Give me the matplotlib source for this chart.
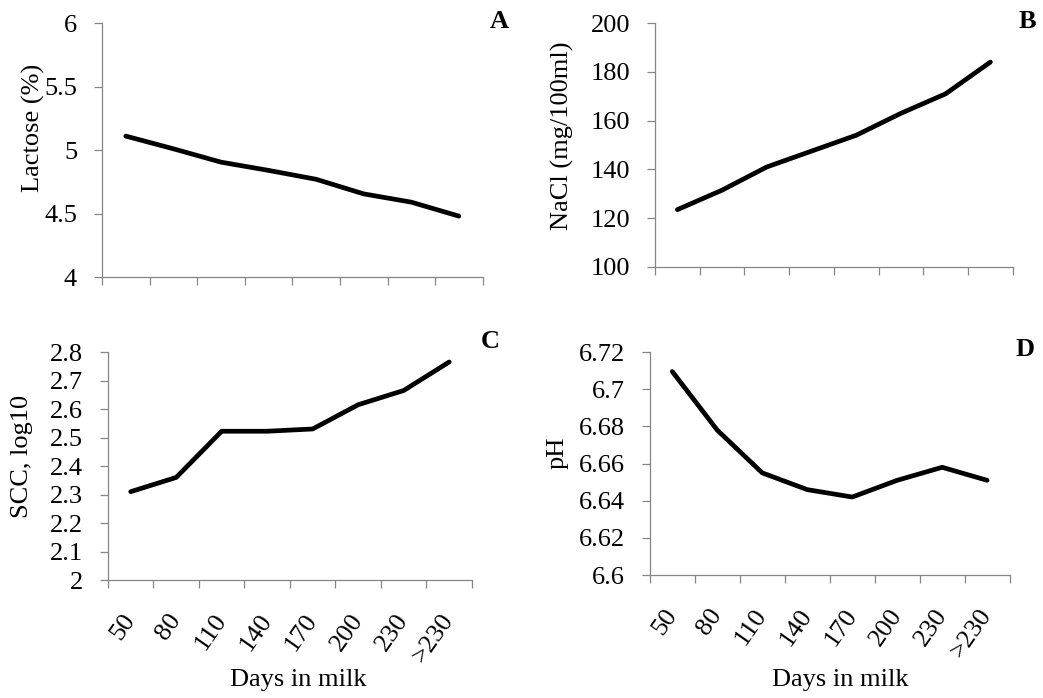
import matplotlib
matplotlib.use("Agg")
import matplotlib.pyplot as plt
from matplotlib.ticker import FuncFormatter

plt.rcParams['font.family'] = ['Liberation Serif', 'DejaVu Serif']

days = ['50', '80', '110', '140', '170', '200', '230', '>230']
lactose = [5.11, 5.01, 4.905, 4.84, 4.77, 4.655, 4.59, 4.48]
nacl = [123.5, 131.5, 141, 147.5, 154, 163, 171, 184]
scc = [2.31, 2.36, 2.522, 2.522, 2.53, 2.615, 2.665, 2.765]
ph = [6.7095, 6.678, 6.655, 6.646, 6.642, 6.651, 6.658, 6.651]

fig = plt.figure(figsize=(10.43, 6.98), dpi=100)

# [left, bottom, width, height], values, y limits, y step, ylabel, ylabel pos,
# panel letter, letter pos (px), xlabel pos (axes coords) or None
panels = [
    ([0.0978, 0.603, 0.365, 0.364], lactose, (4, 6), 0.5, 'Lactose (%)', (-0.181, 0.587),
     'A', (499, 22), None),
    ([0.628, 0.6175, 0.343, 0.3495], nacl, (100, 200), 20, 'NaCl (mg/100ml)', (-0.26, 0.537),
     'B', (1027, 22), None),
    ([0.1035, 0.169, 0.349, 0.3267], scc, (2, 2.8), 0.1, 'SCC, log10', (-0.236, 0.54),
     'C', (490, 342), (0.522, -0.4386)),
    ([0.623, 0.176, 0.345, 0.3197], ph, (6.6, 6.72), 0.02, 'pH', (-0.256, 0.55),
     'D', (1025, 350), (0.528, -0.471)),
]

fmt = FuncFormatter(lambda v, p: '{:g}'.format(round(v, 4)))
grey = '#868686'

for rect, vals, ylim, step, ylab, lpos, letter, tpos, xlpos in panels:
    ax = fig.add_axes(rect)
    x = list(range(len(days)))
    ax.plot(x, vals, color='black', lw=3.4, solid_capstyle='round', solid_joinstyle='round')
    ax.set_xlim(-0.5, len(days) - 0.5)
    ax.set_ylim(*ylim)
    n = int(round((ylim[1] - ylim[0]) / step))
    ax.set_yticks([ylim[0] + i * step for i in range(n + 1)])
    ax.yaxis.set_major_formatter(fmt)
    ax.set_xticks([i - 0.5 for i in range(len(days) + 1)])
    ax.set_xticklabels([])
    ax.set_xticks(x, minor=True)
    if xlpos is not None:
        ax.set_xticklabels(days, minor=True, rotation=55, ha='right', va='center',
                           rotation_mode='anchor')
        ax.set_xlabel('Days in milk', fontsize=19, va='center')
        ax.xaxis.set_label_coords(*xlpos)
    ax.tick_params(axis='x', which='minor', length=0, pad=26, labelsize=19)
    ax.tick_params(axis='both', which='major', direction='out', length=6,
                   width=0.9, color=grey, labelsize=19)
    ax.tick_params(axis='y', which='major', pad=12)
    for s in ['top', 'right']:
        ax.spines[s].set_visible(False)
    for s in ['left', 'bottom']:
        ax.spines[s].set_color(grey)
        ax.spines[s].set_linewidth(0.9)
    ax.set_ylabel(ylab, fontsize=19, va='center')
    ax.yaxis.set_label_coords(*lpos)
    fig.text(tpos[0] / 1043, 1 - tpos[1] / 698, letter, fontsize=19, fontweight='bold',
             ha='center', va='center')

fig.savefig('out.png', dpi=100)
